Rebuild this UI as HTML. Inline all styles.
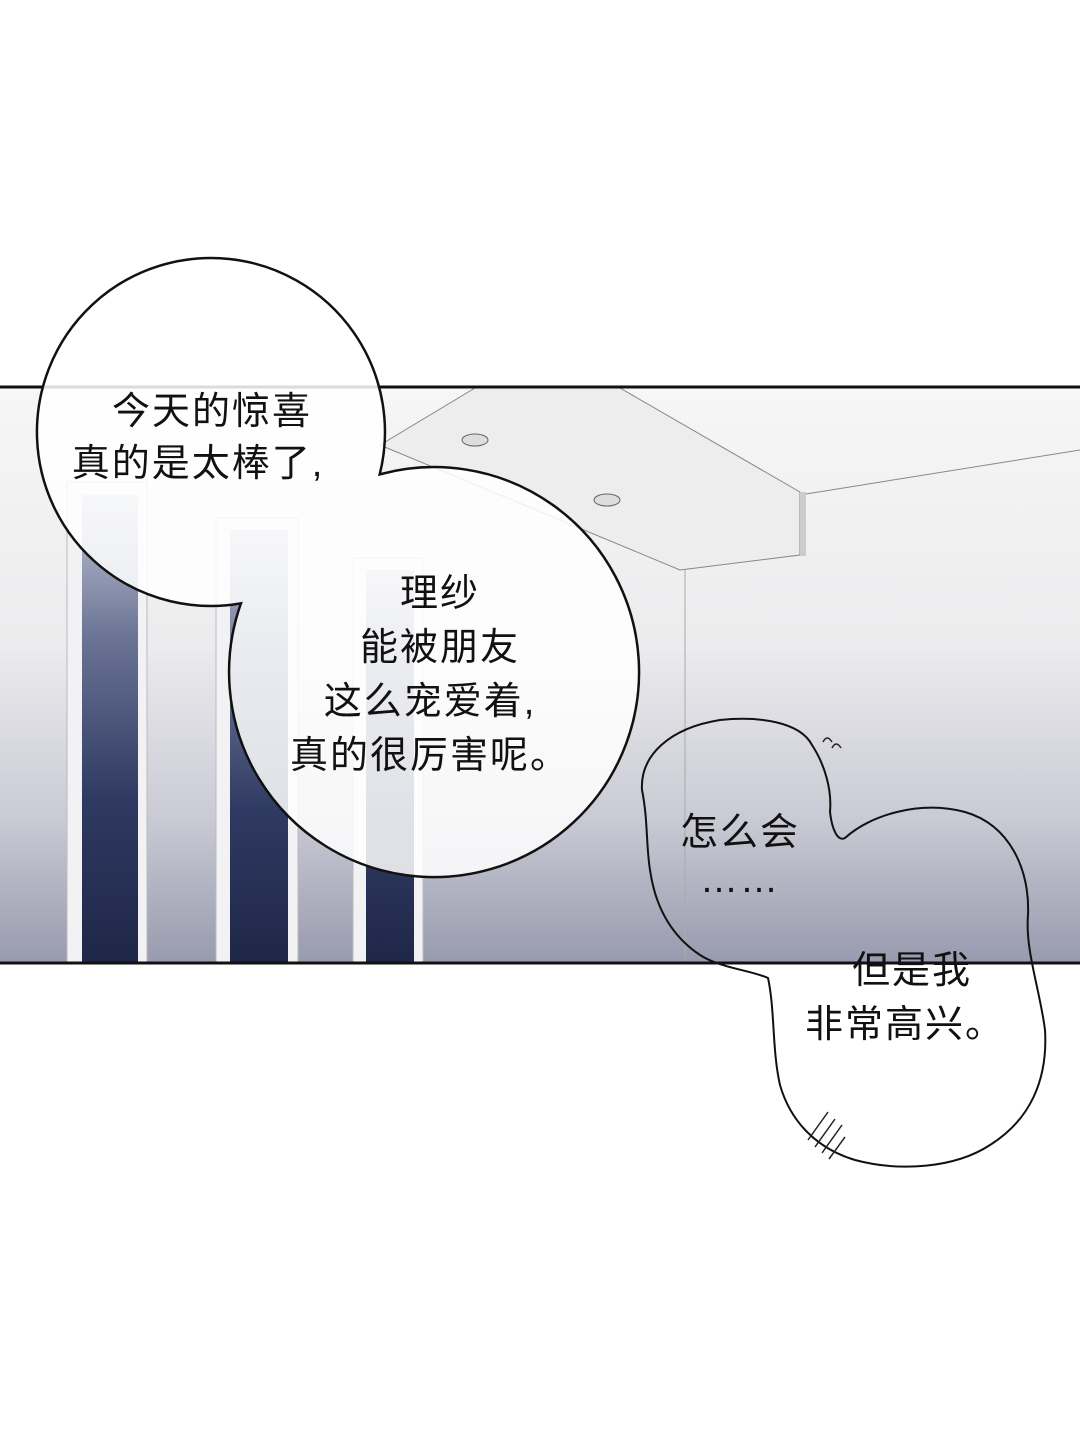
<!DOCTYPE html>
<html><head><meta charset="utf-8"><style>
html,body{margin:0;padding:0;background:#fff;}
svg{display:block}
text{font-family:"Liberation Sans","Noto Sans CJK SC",sans-serif;font-size:38px;fill:#111;text-anchor:middle;letter-spacing:2px}
</style></head><body>
<svg width="1080" height="1447" viewBox="0 0 1080 1447" xmlns="http://www.w3.org/2000/svg">
<defs>
<linearGradient id="bg" x1="0" y1="0" x2="0" y2="1">
<stop offset="0" stop-color="#f6f6f6"/><stop offset="0.45" stop-color="#ececee"/><stop offset="0.75" stop-color="#c9cad4"/><stop offset="1" stop-color="#989aae"/></linearGradient>
<linearGradient id="win" x1="0" y1="0" x2="0" y2="1">
<stop offset="0" stop-color="#c4c8d8"/><stop offset="0.3" stop-color="#6c7596"/><stop offset="0.65" stop-color="#2f3a62"/><stop offset="1" stop-color="#1f2748"/></linearGradient>
</defs>
<rect width="1080" height="1447" fill="#fff"/>
<rect x="0" y="387" width="1080" height="576" fill="url(#bg)"/>
<rect x="67" y="482" width="80" height="480" fill="#f2f2f4" stroke="#bbb"/>
<rect x="82" y="495" width="56" height="467" fill="url(#win)"/>
<rect x="216" y="518" width="82" height="444" fill="#f2f2f4" stroke="#bbb"/>
<rect x="230" y="530" width="58" height="432" fill="url(#win)"/>
<rect x="353" y="558" width="70" height="404" fill="#f2f2f4" stroke="#bbb"/>
<rect x="366" y="570" width="48" height="392" fill="url(#win)"/>
<polygon points="475,388 620,388 800,492 800,555 680,570 380,445" fill="#ededed" stroke="#888" stroke-width="1"/>
<polygon points="800,492 806,492 806,556 800,556" fill="#ccc"/>
<line x1="806" y1="494" x2="1080" y2="450" stroke="#888" stroke-width="1"/>
<line x1="685" y1="570" x2="685" y2="962" stroke="#aaa" stroke-width="1"/>
<ellipse cx="475" cy="440" rx="13" ry="6" fill="#ddd" stroke="#666"/>
<ellipse cx="607" cy="500" rx="13" ry="6" fill="#ddd" stroke="#666"/>
<line x1="0" y1="387" x2="1080" y2="387" stroke="#111" stroke-width="3"/>
<line x1="0" y1="963" x2="1080" y2="963" stroke="#111" stroke-width="3"/>
<path d="M379.7,474.4 A174,174 0 1 0 240.9,603.4 A205,205 0 1 0 379.7,474.4 Z" fill="#fff" fill-opacity="0.85" stroke="#111" stroke-width="2.5" stroke-linejoin="miter"/>
<path d="M642,790 C640,755 670,728 720,720 C760,716 800,722 812,745 C825,765 832,790 830,812 C832,830 838,842 845,838 C870,815 920,800 965,812 C1010,825 1030,870 1028,915 C1025,950 1040,990 1045,1030 C1048,1080 1030,1120 990,1145 C955,1168 900,1172 855,1160 C815,1148 790,1120 780,1085 C772,1050 775,1010 768,978 C750,970 720,968 700,955 C670,935 655,905 650,870 C646,845 648,820 642,790 Z" fill="none" stroke="#111" stroke-width="2"/>
<path d="M823,742 q4,-8 9,0 M832,748 q4,-8 9,0" fill="none" stroke="#222" stroke-width="1.5"/>
<path d="M808,1140 l20,-28 M815,1147 l20,-28 M822,1153 l20,-28 M829,1159 l16,-22" stroke="#222" stroke-width="1.5"/>
<text x="212" y="424">今天的惊喜</text>
<text x="198" y="476">真的是太棒了,</text>
<text x="440" y="606">理纱</text>
<text x="440" y="660">能被朋友</text>
<text x="430" y="714">这么宠爱着,</text>
<text x="430" y="768">真的很厉害呢。</text>
<text x="740" y="845">怎么会</text>
<text x="740" y="892">……</text>
<text x="912" y="983">但是我</text>
<text x="905" y="1037">非常高兴。</text>
</svg>
</body></html>
